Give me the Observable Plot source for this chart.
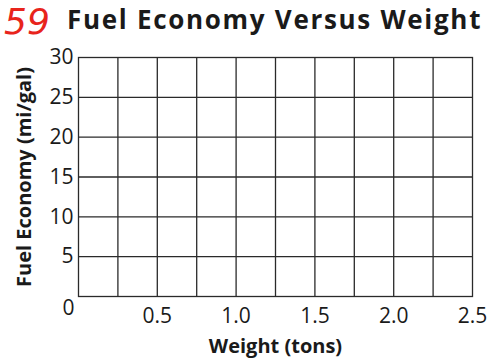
<!DOCTYPE html>
<html>
<head>
<meta charset="utf-8">
<script src="https://cdn.jsdelivr.net/npm/d3@7"></script>
<script src="https://cdn.jsdelivr.net/npm/@observablehq/plot@0.6"></script>
<style>
  html, body { margin: 0; padding: 0; background: #fff; }
  #wrap { width: 504px; height: 361px; position: relative; overflow: hidden; font-family: "Open Sans", sans-serif; }
  #head { position: relative; height: 40px; }
  #num { position: absolute; left: 4px; top: 4px; line-height: 1; padding: 0 3px 0 0; color: #e8241c; font-size: 36px; font-family: "DejaVu Sans", sans-serif; font-style: italic; }
  #title { position: absolute; left: 67px; top: 1px; color: #1a1a1a; font-size: 26px; font-weight: 700; letter-spacing: 1.7px; white-space: nowrap; }
  svg { display: block; overflow: visible; }
</style>
</head>
<body>
<div id="wrap">
  <div id="head"><span id="num"></span><span id="title"></span></div>
  <div id="chart"></div>
</div>
<script>
const problemNumber = "59";
const chartTitle = "Fuel Economy Versus Weight";
const xLabel = "Weight (tons)";
const yLabel = "Fuel Economy (mi/gal)";
const xTickValues = [0.5, 1.0, 1.5, 2.0, 2.5];
const yTickValues = [5, 10, 15, 20, 25, 30];
const xGridValues = [0.25, 0.5, 0.75, 1.0, 1.25, 1.5, 1.75, 2.0, 2.25];
const yGridValues = [5, 10, 15, 20, 25];
const originLabel = ["0"];

document.getElementById("num").textContent = problemNumber;
document.getElementById("title").textContent = chartTitle;

const ink = "#2a2a2a";
const chart = Plot.plot({
  width: 504,
  height: 321,
  marginTop: 17,
  marginBottom: 65,
  marginLeft: 78,
  marginRight: 32,
  style: { fontFamily: "Open Sans, sans-serif", color: "#1a1a1a", background: "#fff", overflow: "visible" },
  x: { domain: [0, 2.5] },
  y: { domain: [0, 30] },
  marks: [
    Plot.ruleX(xGridValues, { stroke: ink, strokeWidth: 1.3 }),
    Plot.ruleY(yGridValues, { stroke: ink, strokeWidth: 1.3 }),
    Plot.frame({ stroke: ink, strokeWidth: 1.3 }),
    Plot.axisX({ ticks: xTickValues, tickSize: 0, tickPadding: 12, fontSize: 21, tickFormat: d => d.toFixed(1), label: null }),
    Plot.axisY({ ticks: yTickValues, tickSize: 0, tickPadding: 5, fontSize: 21, label: null }),
    Plot.text(originLabel, { x: () => 0, y: () => 0, text: d => d, dx: -10, dy: 12, fontSize: 21, textAnchor: "middle" }),
    Plot.text([xLabel], { frameAnchor: "bottom", dy: 56, fontSize: 20, fontWeight: 700, text: d => d }),
    Plot.text([yLabel], { frameAnchor: "left", dx: -54, rotate: -90, textAnchor: "middle", fontSize: 20, fontWeight: 700, text: d => d })
  ]
});
document.getElementById("chart").appendChild(chart);
</script>
</body>
</html>
